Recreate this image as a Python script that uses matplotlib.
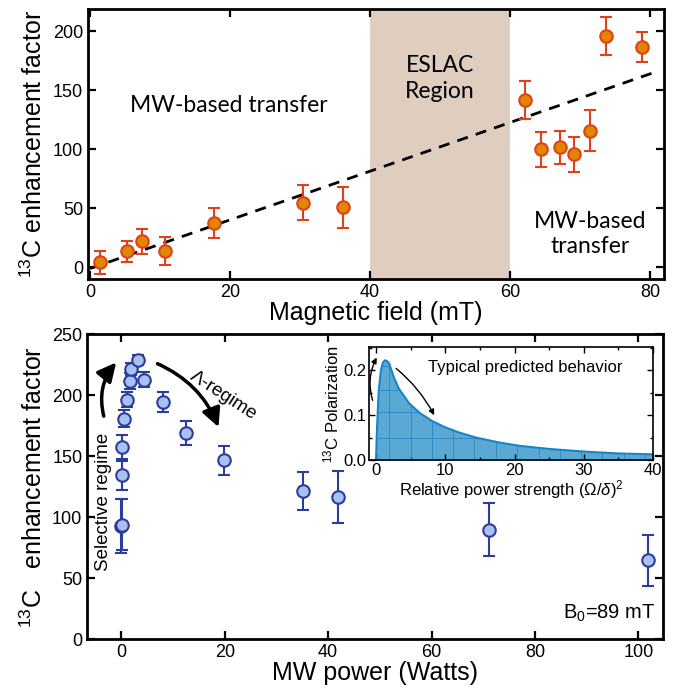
import matplotlib
matplotlib.use('Agg')
import matplotlib.pyplot as plt

plt.rcParams['font.family'] = ['Liberation Sans Narrow', 'Liberation Sans', 'DejaVu Sans']
plt.rcParams['mathtext.fontset'] = 'custom'
plt.rcParams['mathtext.rm'] = 'Liberation Sans'
plt.rcParams['mathtext.it'] = 'Liberation Sans:italic'

# top panel: enhancement vs magnetic field
field = [1.5, 5.3, 7.4, 10.7, 17.7, 30.5, 36.1, 62.2, 64.5, 67.2, 69.2, 71.5, 73.7, 78.9]
enh_field = [4.3, 13.6, 22, 13.6, 37.7, 54.8, 50.8, 141.8, 100, 101.8, 95.9, 116, 196.3, 186.7]
err_field = [9.5, 9, 10.5, 12, 13, 15, 17.6, 16, 15, 14, 15, 17.6, 16, 13]
fit_x = [0, 81]
fit_y = [-1, 166]
eslac = (40, 60)

# bottom panel: enhancement vs MW power
power = [0.0, 0.05, 0.13, 0.2, 0.45, 1.1, 1.6, 1.9, 3.2, 4.4, 8.1, 12.6, 19.9, 35.1, 41.9, 71.1, 101.9]
enh_power = [92.6, 94, 134.4, 157.6, 180.9, 196.4, 211.5, 221.9, 229.3, 213, 194.5, 169.1, 146.7,
             121.3, 116.6, 89.9, 64.8]
err_power = [22, 21, 12, 10, 7, 6, 6.5, 5, 4, 6.5, 8, 10, 12, 15.5, 21, 22, 21]

# inset: predicted polarization
omega = [0, 0.14, 0.38, 0.71, 1.0, 1.29, 1.6, 1.9, 2.6, 3.3, 4.8, 6.4, 8.1, 10, 12.1, 14.5,
         17.9, 20.7, 25, 30.2, 35, 40]
polar = [0, 0.07, 0.152, 0.2, 0.217, 0.222, 0.22, 0.215, 0.183, 0.159, 0.126, 0.104, 0.087, 0.073,
         0.061, 0.050, 0.039, 0.032, 0.025, 0.019, 0.015, 0.013]
mesh_x = [1.9, 4.98, 8.06, 11.1, 14.2, 17.3, 20.4, 23.5, 26.5, 29.6, 32.7, 35.8, 38.9]
mesh_y = [0.05, 0.107, 0.157, 0.21]

fig = plt.figure(figsize=(6.76, 6.91), dpi=100)
ax1 = fig.add_axes([0.130, 0.596, 0.852, 0.391])
ax2 = fig.add_axes([0.129, 0.075, 0.852, 0.441])
axi = fig.add_axes([0.546, 0.334, 0.420, 0.1635])


def style(ax, lw=2, size=13, length=6):
    for s in ax.spines.values():
        s.set_linewidth(lw)
    ax.tick_params(direction='in', top=True, right=True, labelsize=size, width=lw * 0.8, length=length)


# ---- top
ax1.axvspan(*eslac, color='#dfcdc0', lw=0)
ax1.plot(fit_x, fit_y, 'k--', lw=2, dashes=(4, 3))
ax1.errorbar(field, enh_field, yerr=err_field, fmt='o', ms=9, mfc='#e08600', mec='#e0401a', mew=1.5,
             ecolor='#e0401a', elinewidth=1.5, capsize=4, capthick=1.5)
ax1.set_xlim(-0.3, 82)
ax1.set_ylim(-10, 219)
ax1.set_xticks([0, 20, 40, 60, 80])
ax1.set_yticks([0, 50, 100, 150, 200])
style(ax1)
ax1.set_xlabel('Magnetic field (mT)', fontsize=18, labelpad=0)
ax1.set_ylabel('$^{13}$C enhancement factor', fontsize=18, labelpad=4)
ax1.text(19.8, 137, 'MW-based transfer', family='Lato', fontsize=16.5, ha='center', va='center')
ax1.text(50, 160, 'ESLAC\nRegion', family='Lato', fontsize=16.5, ha='center', va='center', linespacing=1.25)
ax1.text(71.5, 28, 'MW-based\ntransfer', family='Lato', fontsize=16.5, ha='center', va='center',
         linespacing=1.25)

# ---- bottom
ax2.errorbar(power, enh_power, yerr=err_power, fmt='o', ms=9, mfc='#a9c0f2', mec='#2a3d9c', mew=1.5,
             ecolor='#2a3d9c', elinewidth=1.5, capsize=4, capthick=1.5)
ax2.set_xlim(-6.6, 104.8)
ax2.set_ylim(0, 250)
ax2.set_xticks([0, 20, 40, 60, 80, 100])
ax2.set_yticks([0, 50, 100, 150, 200, 250])
style(ax2)
ax2.set_xlabel('MW power (Watts)', fontsize=18, labelpad=0)
ax2.set_ylabel('$^{13}$C   enhancement factor', fontsize=18, labelpad=4)
ax2.annotate('', xy=(-1.0, 227), xytext=(-3.4, 183),
             arrowprops=dict(arrowstyle='-|>', connectionstyle='arc3,rad=-0.25', lw=2.5, color='k',
                             mutation_scale=28, shrinkA=0, shrinkB=0))
ax2.annotate('', xy=(18.8, 174), xytext=(7.0, 226),
             arrowprops=dict(arrowstyle='-|>', connectionstyle='arc3,rad=-0.2', lw=2.5, color='k',
                             mutation_scale=28, shrinkA=0, shrinkB=0))
ax2.text(-3.5, 113, 'Selective regime', rotation=90, fontsize=13.5, ha='center', va='center')
ax2.text(19.7, 200, 'Λ-regime', rotation=-33, fontsize=13.5, ha='center', va='center')
ax2.text(103.2, 21, 'B$_0$=89 mT', fontsize=14.5, ha='right', va='center')

# ---- inset
fill = axi.fill_between(omega, polar, color='#5aa9d5', lw=0)
clip = fill.get_paths()[0]
vl = axi.vlines(mesh_x, 0, 0.25, colors='#2f84bf', lw=0.6)
hl = axi.hlines(mesh_y, 0, 40, colors='#2f84bf', lw=0.6)
vl.set_clip_path(clip, axi.transData)
hl.set_clip_path(clip, axi.transData)
axi.plot(omega, polar, color='#1784c6', lw=1.5)
axi.set_xlim(-1, 40)
axi.set_ylim(0, 0.251)
axi.set_xticks([0, 10, 20, 30, 40])
axi.set_xticks([5, 15, 25, 35], minor=True)
axi.set_yticks([0, 0.1, 0.2])
axi.set_yticks([0.05, 0.15, 0.25], minor=True)
axi.yaxis.set_major_formatter(matplotlib.ticker.FormatStrFormatter('%.1f'))
for s in axi.spines.values():
    s.set_linewidth(1.2)
axi.tick_params(which='both', direction='in', top=True, right=True, labelsize=12, width=1, length=4, pad=2)
axi.tick_params(which='minor', length=2.5)
axi.set_xlabel('Relative power strength $(\\Omega/\\delta)^2$', fontsize=12, labelpad=0)
axi.set_ylabel('$^{13}$C Polarization', fontsize=12, labelpad=1)
axi.text(21.6, 0.207, 'Typical predicted behavior', fontsize=12, ha='center', va='center')
axi.annotate('', xy=(0.1, 0.228), xytext=(-0.5, 0.133),
             arrowprops=dict(arrowstyle='-|>', connectionstyle='arc3,rad=-0.2', lw=1, color='k',
                             mutation_scale=8, shrinkA=0, shrinkB=0))
axi.annotate('', xy=(8.4, 0.10), xytext=(2.9, 0.204),
             arrowprops=dict(arrowstyle='-|>', connectionstyle='arc3,rad=-0.1', lw=1, color='k',
                             mutation_scale=8, shrinkA=0, shrinkB=0))

fig.savefig('out.png', dpi=100)
